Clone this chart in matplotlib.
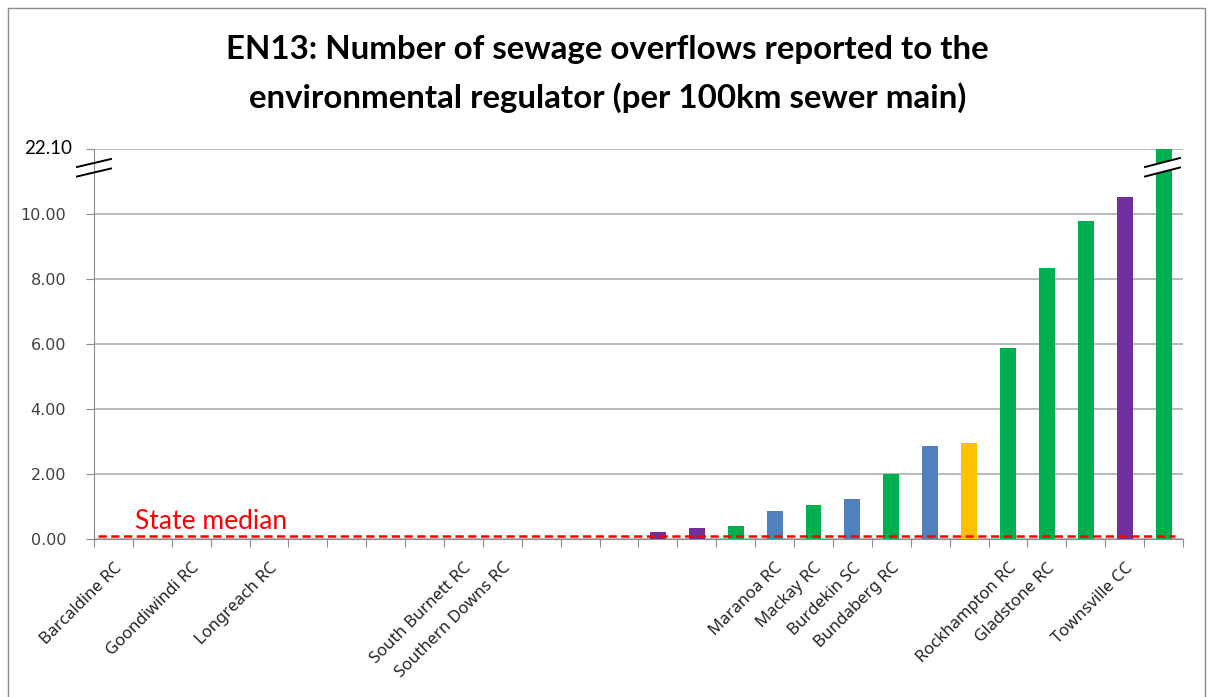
import matplotlib.pyplot as plt
from matplotlib.lines import Line2D
from matplotlib.patches import Rectangle, Polygon

# categories in chart order; only some of them carry a label
labels = ["Barcaldine RC", "", "Goondiwindi RC", "", "Longreach RC", "", "", "", "",
          "South Burnett RC", "Southern Downs RC", "", "", "", "", "", "",
          "Maranoa RC", "Mackay RC", "Burdekin SC", "Bundaberg RC", "", "",
          "Rockhampton RC", "Gladstone RC", "", "Townsville CC", ""]
values = [0, 0, 0, 0, 0, 0, 0, 0, 0, 0, 0, 0, 0, 0,
          0.24, 0.35, 0.40, 0.86, 1.06, 1.25, 2.00, 2.87, 2.97,
          5.88, 8.36, 9.78, 10.54, 22.10]
groups = ["n"] * 14 + ["p", "p", "g", "b", "g", "b", "g", "b", "y",
                       "g", "g", "g", "p", "g"]
state_median = 0.10
y_ticks = [0, 2, 4, 6, 8, 10]
axis_top = 12
top_label = "22.10"

colours = {"g": "#00B050", "p": "#7030A0", "b": "#4F81BD", "y": "#FFC000", "n": "#FFFFFF"}

plt.rcParams["font.family"] = ["Lato", "DejaVu Sans"]

W, H = 1208, 697
fig = plt.figure(figsize=(W / 100, H / 100), dpi=100)

def fx(px):
    return px / W

def fy(py):
    return 1 - py / H

# outer chart frame
fig.patches.append(Rectangle((fx(8), fy(720)), fx(1197), fy(8) - fy(720),
                             transform=fig.transFigure, fill=False,
                             edgecolor="#8C8C8C", linewidth=1.0))

ax = fig.add_axes([fx(94), fy(539.3), fx(1183) - fx(94), fy(149.3) - fy(539.3)])

x = list(range(len(labels)))
ax.bar(x, values, width=0.41, color=[colours[g] for g in groups], zorder=3)

ax.set_xlim(-0.5, len(labels) - 0.5)
ax.set_ylim(0, axis_top)

# y axis: ordinary ticks plus the top one standing for the off-scale bar
ax.set_yticks(y_ticks + [axis_top])
ax.set_yticklabels(["%.2f" % v for v in y_ticks] + [""],
                   family=["DejaVu Sans"])
ax.tick_params(axis="y", length=6, color="#8C8C8C", labelsize=11.5,
               labelcolor="#404040", pad=14)
fig.text(fx(72), fy(148), top_label, ha="right", va="center",
         fontsize=13.5, color="black")
ax.yaxis.grid(True, color="#A6A6A6", linewidth=1.1, zorder=0)
ax.set_axisbelow(True)

# x axis: tick marks between categories, names under the centres
ax.set_xticks([i - 0.5 for i in range(len(labels) + 1)])
ax.set_xticklabels([])
ax.set_xticks(x, minor=True)
ax.set_xticklabels(labels, minor=True, rotation=45, ha="right",
                   rotation_mode="anchor", fontsize=12, color="#222222",
                   family=["Noto Sans", "DejaVu Sans"])
ax.tick_params(axis="x", which="major", length=6, color="#8C8C8C")
ax.tick_params(axis="x", which="minor", length=0, pad=15)

for side in ["top", "right"]:
    ax.spines[side].set_visible(False)
for side in ["left", "bottom"]:
    ax.spines[side].set_color("#8C8C8C")

# state median reference line
ax.plot([-0.4, len(labels) - 0.7], [state_median, state_median],
        color="#FF0000", linestyle=(0, (3.3, 1.8)), linewidth=1.8, zorder=4)
ax.text(0.55, state_median + 0.06, "State median", color="#FF0000",
        fontsize=19, ha="left", va="bottom")

# axis break marks on the y axis and across the tallest bar
def break_mark(x0, x1, ya, yb, gap, cover=False):
    if cover:
        fig.patches.append(Polygon([(fx(x0), fy(ya)), (fx(x1), fy(yb)),
                                    (fx(x1), fy(yb + gap)), (fx(x0), fy(ya + gap))],
                                   closed=True, transform=fig.transFigure,
                                   facecolor="white", edgecolor="none", zorder=5))
    for dy in (0, gap):
        fig.add_artist(Line2D([fx(x0), fx(x1)], [fy(ya + dy), fy(yb + dy)],
                              color="black", linewidth=1.4, zorder=6))

break_mark(77, 111, 167, 159, 9.5)
break_mark(1145, 1180, 167, 158, 9.5, cover=True)

fig.text(0.503, fy(50), "EN13: Number of sewage overflows reported to the",
         ha="center", va="center", fontsize=23.8, fontweight="bold")
fig.text(0.503, fy(98), "environmental regulator (per 100km sewer main)",
         ha="center", va="center", fontsize=23.8, fontweight="bold")

fig.savefig("out.png", dpi=100)
